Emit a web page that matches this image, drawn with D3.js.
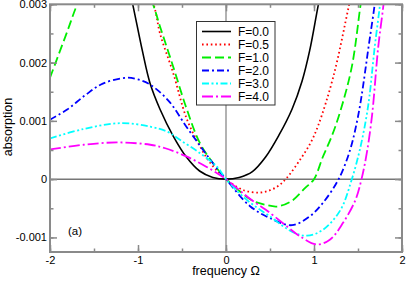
<!DOCTYPE html>
<html><head><meta charset="utf-8">
<script src="https://cdn.jsdelivr.net/npm/d3@7/dist/d3.min.js"></script>
<style>body{margin:0;background:#fff}svg{display:block}text{font-family:"Liberation Sans",Arial,sans-serif}</style>
</head><body><svg id="c" width="407" height="281"></svg>
<script>
const omegaTicks = [-2, -1, 0, 1, 2];
const absTicks = [-0.001, 0, 0.001, 0.002, 0.003];
const absTickLabels = ["-0.001", "0", "0.001", "0.002", "0.003"];
const seriesNames = ["F=0.0", "F=0.5", "F=1.0", "F=2.0", "F=3.0", "F=4.0"];

const F00 = [[-1.25,0.0043],[-1.06,0.003],[-0.95,0.0022],[-0.864,0.00165],[-0.75,0.0012],[-0.6,0.00074],[-0.45,0.00038],[-0.3,0.00014],[-0.15,0.00003],[0,0],[0.15,0.00003],[0.3,0.00013],[0.45,0.00038],[0.6,0.00075],[0.75,0.0012],[0.864,0.00168],[0.95,0.0022],[1.05,0.003],[1.22,0.0043]];
const F05 = [[-2,0.0029],[-1.9,0.0035],[-1.6,0.0043],[-1.3,0.0045],[-1.0,0.0038],[-0.81,0.00293],[-0.75,0.0025],[-0.6,0.00182],[-0.45,0.00105],[-0.33,0.00066],[-0.18,0.00028],[0,0],[0.2,-0.00019],[0.38,-0.00023],[0.5,-0.00019],[0.6,-0.00011],[0.69,0.00002],[0.84,0.00033],[0.96,0.00062],[1.05,0.00093],[1.22,0.00176],[1.4,0.003],[1.5,0.0037]];
const F10 = [[-2,0.00174],[-1.8,0.00255],[-1.69,0.003],[-1.5,0.0036],[-1.25,0.0039],[-1.0,0.0036],[-0.83,0.003],[-0.75,0.00262],[-0.6,0.00193],[-0.45,0.00122],[-0.3,0.00063],[-0.15,0.00028],[0,0],[0.15,-0.0002],[0.3,-0.00037],[0.45,-0.00044],[0.58,-0.00047],[0.75,-0.00037],[0.9,-0.00015],[1.0,0.0],[1.1,0.00038],[1.2,0.00073],[1.3,0.00117],[1.43,0.00193],[1.53,0.003],[1.6,0.0037]];
const F20 = [[-2,0.00102],[-1.8,0.0012],[-1.6,0.00144],[-1.4,0.00164],[-1.13,0.00174],[-1.0,0.00171],[-0.86,0.00162],[-0.65,0.00134],[-0.45,0.0009],[-0.26,0.0005],[-0.09,0.00016],[0,0],[0.27,-0.00046],[0.5,-0.00067],[0.75,-0.00079],[0.95,-0.00064],[1.1,-0.00041],[1.28,0],[1.41,0.0005],[1.49,0.001],[1.54,0.00142],[1.62,0.00227],[1.69,0.003],[1.73,0.0035]];
const F30 = [[-2,0.0007],[-1.62,0.00086],[-1.2,0.00096],[-0.86,0.0009],[-0.66,0.00081],[-0.52,0.00067],[-0.3,0.00045],[-0.1,0.00021],[0,0],[0.24,-0.00036],[0.5,-0.00064],[0.76,-0.00091],[0.92,-0.00097],[1.1,-0.00087],[1.3,-0.00053],[1.43,0],[1.52,0.0005],[1.59,0.00102],[1.63,0.00142],[1.69,0.00227],[1.75,0.003],[1.78,0.0035]];
const F40 = [[-2,0.00051],[-1.62,0.00059],[-1.24,0.00063],[-0.86,0.00059],[-0.69,0.00053],[-0.45,0.00039],[-0.22,0.00021],[0,0],[0.25,-0.00031],[0.5,-0.00058],[0.7,-0.00082],[0.84,-0.00098],[1.03,-0.00112],[1.18,-0.00104],[1.33,-0.00075],[1.47,-0.00036],[1.54,0],[1.6,0.00045],[1.66,0.0011],[1.73,0.00227],[1.79,0.003],[1.82,0.0035]];

const seriesData = [F00, F05, F10, F20, F30, F40];
const colors = ["#000000", "#ff0000", "#00ee00", "#0000ff", "#00ffff", "#ff00ff"];
const dashes = [null, "1.6,2.8", "9,4", "7,3,2,3", "7,2.5,2,2.5,2,2.5", "11,3,2,3"];
const widths = [1.6, 1.8, 1.8, 1.8, 1.8, 1.8];

const L = 50, R = 402, T = 4.3, B = 252;
const svg = d3.select("#c");
const x = d3.scaleLinear().domain([-2, 2]).range([L, R]);
const y = d3.scaleLinear().domain([-0.00125, 0.003]).range([B, T]);
const grey = "#8a8a8a";

svg.append("defs").append("clipPath").attr("id", "clip")
  .append("rect").attr("x", L).attr("y", T).attr("width", R - L).attr("height", B - T);

// zero lines
svg.append("line").attr("x1", L).attr("x2", R).attr("y1", y(0)).attr("y2", y(0)).attr("stroke", "#777").attr("stroke-width", 1.5);
svg.append("line").attr("x1", x(0)).attr("x2", x(0)).attr("y1", T).attr("y2", B).attr("stroke", "#999").attr("stroke-width", 1.5);

// curves
const line = d3.line().x(d => x(d[0])).y(d => y(d[1])).curve(d3.curveCatmullRom.alpha(0.5));
const g = svg.append("g").attr("clip-path", "url(#clip)");
seriesData.forEach((s, i) => {
  g.append("path").attr("d", line(s)).attr("fill", "none")
    .attr("stroke", colors[i]).attr("stroke-width", widths[i])
    .attr("stroke-dasharray", dashes[i]);
});

// axes with inward ticks on all sides
const xMinor = d3.range(-2, 2.01, 0.5);
const yMinor = d3.range(-0.001, 0.00301, 0.0005);
const axB = d3.axisBottom(x).tickValues(omegaTicks).tickSize(-7).tickFormat(d => d);
const axT = d3.axisTop(x).tickValues(omegaTicks).tickSize(-7).tickFormat("");
const axL = d3.axisLeft(y).tickValues(absTicks).tickSize(-7).tickFormat((d, i) => absTickLabels[i]);
const axR = d3.axisRight(y).tickValues(absTicks).tickSize(-7).tickFormat("");
function style(sel) {
  sel.select(".domain").remove();
  sel.selectAll("line").attr("stroke", grey).attr("stroke-width", 1.5);
  sel.selectAll("text").attr("font-size", 11).attr("fill", "#000").attr("font-family", '"Liberation Sans",Arial,sans-serif');
}
svg.append("g").attr("transform", `translate(0,${B})`).call(axB).call(style).selectAll("text").attr("dy", "0.71em").attr("y", 4.5);
svg.append("g").attr("transform", `translate(0,${T})`).call(axT).call(style);
svg.append("g").attr("transform", `translate(${L},0)`).call(axL).call(style).selectAll("text").attr("x", -3);
svg.append("g").attr("transform", `translate(${R},0)`).call(axR).call(style);
svg.append("g").attr("transform", `translate(0,${B})`).call(d3.axisBottom(x).tickValues(xMinor).tickSize(-3.5).tickFormat("")).call(style);
svg.append("g").attr("transform", `translate(0,${T})`).call(d3.axisTop(x).tickValues(xMinor).tickSize(-3.5).tickFormat("")).call(style);
svg.append("g").attr("transform", `translate(${L},0)`).call(d3.axisLeft(y).tickValues(yMinor).tickSize(-3.5).tickFormat("")).call(style);
svg.append("g").attr("transform", `translate(${R},0)`).call(d3.axisRight(y).tickValues(yMinor).tickSize(-3.5).tickFormat("")).call(style);

// frame
svg.append("rect").attr("x", L).attr("y", T).attr("width", R - L).attr("height", B - T)
  .attr("fill", "none").attr("stroke", grey).attr("stroke-width", 2);

// labels
svg.append("text").attr("x", 226).attr("y", 275).attr("text-anchor", "middle").attr("font-size", 12.5).text("frequency Ω");
svg.append("text").attr("transform", "translate(12,127) rotate(-90)").attr("text-anchor", "middle").attr("font-size", 12.5).text("absorption");
svg.append("text").attr("x", 68).attr("y", 235).attr("font-size", 11.5).text("(a)");

// legend
const lg = svg.append("g");
lg.append("rect").attr("x", 196.5).attr("y", 21.5).attr("width", 78.5).attr("height", 83.5)
  .attr("fill", "#fff").attr("stroke", "#333").attr("stroke-width", 1);
seriesNames.forEach((n, i) => {
  const yy = 31.5 + i * 13;
  lg.append("line").attr("x1", 202).attr("x2", 231).attr("y1", yy).attr("y2", yy)
    .attr("stroke", colors[i]).attr("stroke-width", widths[i]).attr("stroke-dasharray", dashes[i]);
  lg.append("text").attr("x", 238).attr("y", yy).attr("dy", "0.36em").attr("font-size", 12).text(n);
});
</script></body></html>
